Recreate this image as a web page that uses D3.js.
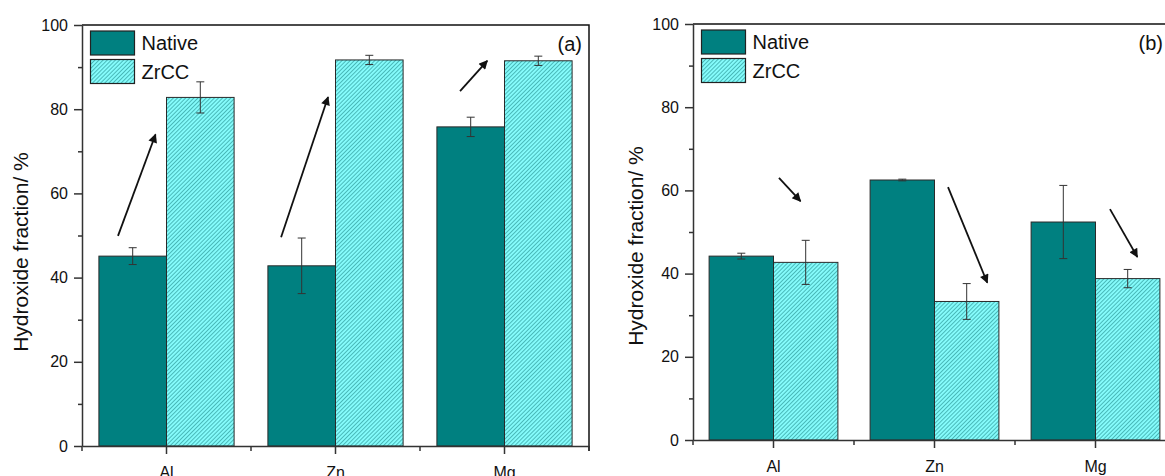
<!DOCTYPE html>
<html>
<head>
	<script src='https://d3js.org/d3.v7.min.js'></script>
	<style type="text/css">
		body { margin: 0; background: #fff; }
		text { font-family: "Liberation Sans", Arial, sans-serif; fill: #111; }
	</style>
</head>
<body>
	<script type="text/javascript">
		// categories / series
		var categories = ['Al', 'Zn', 'Mg'];
		var seriesNames = ['Native', 'ZrCC'];
		var yTicks = [0, 20, 40, 60, 80, 100];
		var yMinor = [10, 30, 50, 70, 90];

		// panel (a)
		var nativeA = [45.1, 42.8, 75.8];
		var nativeErrA = [2.0, 6.6, 2.3];
		var zrccA = [82.8, 91.7, 91.5];
		var zrccErrA = [3.7, 1.1, 1.1];
		// arrows: position inside the category band (0..1) and value
		var arrowsA = [
			{cat: 'Al', f0: 0.213, v0: 49.9, f1: 0.435, v1: 74.0},
			{cat: 'Zn', f0: 0.178, v0: 49.6, f1: 0.456, v1: 82.9},
			{cat: 'Mg', f0: 0.237, v0: 84.3, f1: 0.398, v1: 91.5}
		];

		// panel (b)
		var nativeB = [44.2, 62.5, 52.4];
		var nativeErrB = [0.7, 0.2, 8.8];
		var zrccB = [42.7, 33.3, 38.8];
		var zrccErrB = [5.3, 4.3, 2.2];
		var arrowsB = [
			{cat: 'Al', f0: 0.534, v0: 63.0, f1: 0.668, v1: 57.4},
			{cat: 'Zn', f0: 0.584, v0: 60.8, f1: 0.828, v1: 37.8},
			{cat: 'Mg', f0: 0.590, v0: 55.5, f1: 0.760, v1: 44.0}
		];

		var W = 1165, H = 476;
		var svg = d3.select('body').append('svg')
			.attr('width', W).attr('height', H);

		var defs = svg.append('defs');
		var pat = defs.append('pattern')
			.attr('id', 'hatch')
			.attr('patternUnits', 'userSpaceOnUse')
			.attr('width', 2.9).attr('height', 2.9)
			.attr('patternTransform', 'rotate(45)');
		pat.append('rect').attr('width', 2.9).attr('height', 2.9).attr('fill', '#84fbfb');
		pat.append('line').attr('x1', 0).attr('y1', 0).attr('x2', 0).attr('y2', 2.9)
			.attr('stroke', '#1b8585').attr('stroke-width', 1.1);

		var marker = defs.append('marker')
			.attr('id', 'head')
			.attr('viewBox', '0 0 10 10')
			.attr('refX', 9).attr('refY', 5)
			.attr('markerUnits', 'userSpaceOnUse')
			.attr('markerWidth', 11).attr('markerHeight', 9)
			.attr('orient', 'auto');
		marker.append('path').attr('d', 'M0,0 L10,5 L0,10 Z').attr('fill', '#111');

		var fills = {Native: '#008080', ZrCC: 'url(#hatch)'};

		function panel(opt) {
			var g = svg.append('g');
			var x = d3.scaleBand().domain(categories).range([opt.left, opt.right]).padding(0);
			var xs = d3.scaleBand().domain(seriesNames)
				.range([0.1 * x.bandwidth(), 0.9 * x.bandwidth()]).padding(0);
			var y = d3.scaleLinear().domain([0, 100]).range([opt.bottom, opt.top]);

			var rows = [];
			categories.forEach(function(c, i) {
				rows.push({cat: c, s: 'Native', v: opt.native[i], e: opt.nativeErr[i]});
				rows.push({cat: c, s: 'ZrCC', v: opt.zrcc[i], e: opt.zrccErr[i]});
			});

			// bars
			g.selectAll('.bar').data(rows).enter().append('rect')
				.attr('x', function(d) { return x(d.cat) + xs(d.s); })
				.attr('y', function(d) { return y(d.v); })
				.attr('width', xs.bandwidth())
				.attr('height', function(d) { return y(0) - y(d.v); })
				.attr('fill', function(d) { return fills[d.s]; })
				.attr('stroke', '#2a2a2a').attr('stroke-width', 1);

			// error bars
			var eb = g.selectAll('.err').data(rows).enter().append('g')
				.attr('stroke', '#333').attr('stroke-width', 1);
			var cx = function(d) { return x(d.cat) + xs(d.s) + xs.bandwidth() / 2; };
			eb.append('line')
				.attr('x1', cx).attr('x2', cx)
				.attr('y1', function(d) { return y(d.v - d.e); })
				.attr('y2', function(d) { return y(d.v + d.e); });
			[-1, 1].forEach(function(k) {
				eb.append('line')
					.attr('x1', function(d) { return cx(d) - 4; })
					.attr('x2', function(d) { return cx(d) + 4; })
					.attr('y1', function(d) { return y(d.v + k * d.e); })
					.attr('y2', function(d) { return y(d.v + k * d.e); });
			});

			// arrows
			g.selectAll('.arrow').data(opt.arrows).enter().append('line')
				.attr('x1', function(d) { return x(d.cat) + d.f0 * x.bandwidth(); })
				.attr('y1', function(d) { return y(d.v0); })
				.attr('x2', function(d) { return x(d.cat) + d.f1 * x.bandwidth(); })
				.attr('y2', function(d) { return y(d.v1); })
				.attr('stroke', '#111').attr('stroke-width', 1.8)
				.attr('marker-end', 'url(#head)');

			// frame
			g.append('path')
				.attr('d', 'M' + opt.left + ',' + opt.top + 'H' + opt.right + 'V' + (opt.bottom + 5))
				.attr('fill', 'none').attr('stroke', '#111').attr('stroke-width', 1.5);

			// y axis
			var ya = g.append('g').attr('transform', 'translate(' + opt.left + ',0)')
				.call(d3.axisLeft(y).tickValues(yTicks).tickSize(8).tickSizeOuter(0).tickPadding(6));
			g.append('g').attr('transform', 'translate(' + opt.left + ',0)')
				.call(d3.axisLeft(y).tickValues(yMinor).tickSize(4).tickFormat('').tickSizeOuter(0))
				.select('.domain').remove();
			ya.selectAll('text').style('font-size', '16px').style('font-family', '"Liberation Sans", Arial, sans-serif');

			// x axis
			var xa = g.append('g').attr('transform', 'translate(0,' + opt.bottom + ')')
				.call(d3.axisBottom(x).tickSize(8).tickSizeOuter(0).tickPadding(13));
			xa.selectAll('text').style('font-size', '16px').style('font-family', '"Liberation Sans", Arial, sans-serif');
			var bounds = categories.map(function(c) { return x(c); }).concat([opt.right]);
			g.selectAll('.xminor').data(bounds).enter().append('line')
				.attr('x1', function(d) { return d; }).attr('x2', function(d) { return d; })
				.attr('y1', opt.bottom).attr('y2', opt.bottom + 5)
				.attr('stroke', '#333').attr('stroke-width', 1.5);

			g.selectAll('.domain, .tick line').attr('stroke', '#333').attr('stroke-width', 1.5);

			// axis title
			g.append('text')
				.attr('transform', 'translate(' + opt.titleX + ',' + opt.titleY + ') rotate(-90)')
				.attr('text-anchor', 'middle')
				.style('font-size', '21px')
				.text('Hydroxide fraction/ %');

			// panel label
			g.append('text')
				.attr('x', opt.labelX).attr('y', opt.top + 26)
				.attr('text-anchor', 'end')
				.style('font-size', '20px')
				.text(opt.label);

			// legend
			var lg = g.append('g').attr('transform', 'translate(' + (opt.left + 8.5) + ',' + (opt.top + 6) + ')');
			seriesNames.forEach(function(s, i) {
				lg.append('rect')
					.attr('x', 0).attr('y', i * 28.5)
					.attr('width', 44).attr('height', 24)
					.attr('fill', fills[s]).attr('stroke', '#222').attr('stroke-width', 1.2);
				lg.append('text')
					.attr('x', 51).attr('y', i * 28.5 + 19)
					.style('font-size', '20px')
					.text(s);
			});
		}

		panel({left: 82, right: 589, top: 25, bottom: 446,
			native: nativeA, nativeErr: nativeErrA, zrcc: zrccA, zrccErr: zrccErrA,
			arrows: arrowsA, label: '(a)', labelX: 582, titleX: 28, titleY: 252});

		panel({left: 693, right: 1176, top: 24, bottom: 440,
			native: nativeB, nativeErr: nativeErrB, zrcc: zrccB, zrccErr: zrccErrB,
			arrows: arrowsB, label: '(b)', labelX: 1163, titleX: 643, titleY: 246});
	</script>
</body>
</html>
